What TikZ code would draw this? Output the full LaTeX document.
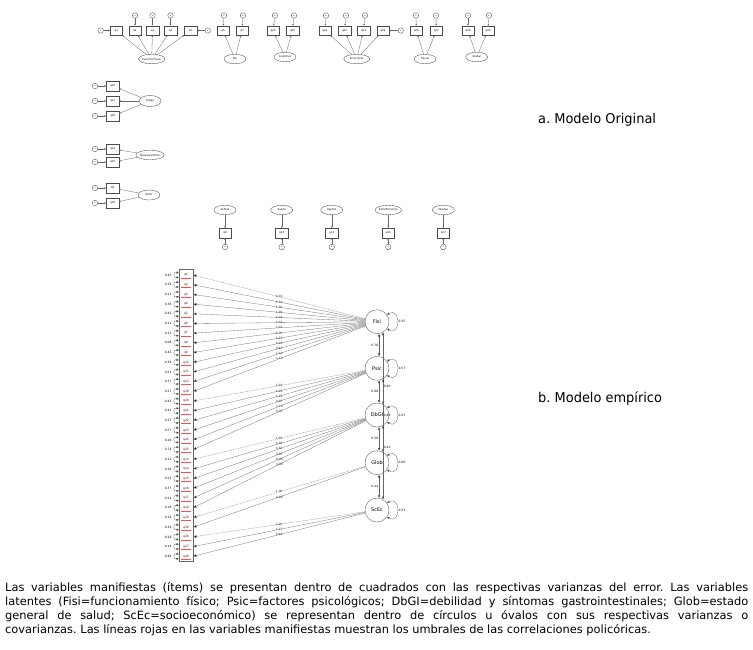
\documentclass[tikz,border=0pt]{standalone}
\usepackage{fontspec}
\setmainfont{DejaVu Sans}
\newfontfamily\capfont{DejaVu Sans}[FakeStretch=0.96]
\newfontfamily\bodyfont{DejaVu Sans}
\usetikzlibrary{shapes.geometric,arrows.meta}
\frenchspacing
\begin{document}
\begin{tikzpicture}[x=1pt,y=-1pt,
  tinyf/.style={font=\fontsize{2.6}{3}\selectfont},
  obs/.style={draw=black!70,line width=0.35pt,rectangle,minimum width=12.5pt,minimum height=9.5pt,inner sep=0pt,tinyf},
  lat/.style={draw=black!70,line width=0.35pt,ellipse,minimum width=22pt,minimum height=9.5pt,inner sep=0.3pt,tinyf},
  err/.style={draw=black!70,line width=0.35pt,circle,minimum size=5.5pt,inner sep=0pt,font=\fontsize{2}{2}\selectfont},
  arr/.style={draw=black!60,line width=0.3pt,-{Stealth[length=1.8pt,width=1.8pt]}},
  item/.style={rectangle,minimum width=14pt,minimum height=9.7pt,inner sep=0pt,text=red!45!black,font=\fontsize{3}{3}\selectfont},
  latc/.style={circle,draw=black!60,line width=0.4pt,minimum size=24pt,inner sep=0pt,font=\fontsize{5}{5}\selectfont},
  ls/.style={draw=black!55,line width=0.3pt,-{Latex[length=3.2pt,width=2.8pt,fill=black]}},
  ld/.style={ls,dashed,dash pattern=on 1pt off 0.8pt},
  lload/.style={font=\fontsize{3}{3}\selectfont,inner sep=0.3pt,text=black!80},
  vloop/.style={draw=black!60,line width=0.3pt,{Latex[length=2.4pt,width=2.4pt,fill=black]}-{Latex[length=2.4pt,width=2.4pt,fill=black]}},
  cov/.style={draw=black!60,line width=0.3pt,{Latex[length=2.8pt,width=2.4pt,fill=black]}-{Latex[length=2.8pt,width=2.4pt,fill=black]}},
  small/.style={font=\fontsize{3}{3}\selectfont,inner sep=0.3pt},
  capt/.style={font=\capfont\fontsize{13.5}{15}\selectfont,anchor=west,inner sep=0pt}
]
\useasboundingbox[fill=white] (0,0) rectangle (753,649);

% ---------------- a. Modelo original: top row ----------------
\foreach \n/\x in {1/116.3,2/135,3/152.5,4/170.5,5/190.5}
  \node[obs] (aq\n) at (\x,30.5) {q\n};
\node[lat,minimum width=26pt] (L1) at (151.7,59) {Función Física};
\foreach \n in {1,...,5} \draw[arr] (L1) -- (aq\n);
\node[err] (ae1) at (100.7,30.5) {e};
\draw[arr] (ae1) -- (aq1);
\node[err] (ae5) at (207.7,30.5) {e};
\draw[arr] (ae5) -- (aq5);
\foreach \n/\x in {2/135,3/152.5,4/170.5} {
  \node[err] (ae\n) at (\x,15.5) {e};
  \draw[arr] (ae\n) -- (aq\n);
}
\node[obs] (aq6) at (223,30.5) {q6};
\node[obs] (aq7) at (242,30.5) {q7};
\node[lat] (L2) at (235,59) {Rol};
\foreach \n/\x in {6/224,7/243} {
  \node[err] (ae\n) at (\x,15.5) {e};
  \draw[arr] (ae\n) -- (aq\n);
  \draw[arr] (L2) -- (aq\n);
}
\node[obs] (aq20) at (273,30.5) {q20};
\node[obs] (aq25) at (292.5,30.5) {q25};
\node[lat] (L3) at (285,57) {Cognitivo};
\foreach \n/\x in {20/275,25/294} {
  \node[err] (ae\n) at (\x,15.5) {e};
  \draw[arr] (ae\n) -- (aq\n);
  \draw[arr] (L3) -- (aq\n);
}
\foreach \n/\x in {21/325,22/344.5,23/363.5,24/383}
  \node[obs] (aq\n) at (\x,30.5) {q\n};
\node[lat,minimum width=26pt] (L4) at (356.7,59) {Emocional};
\foreach \n in {21,22,23,24} \draw[arr] (L4) -- (aq\n);
\foreach \n/\x in {21/326,22/346,23/365} {
  \node[err] (ae\n) at (\x,15.5) {e};
  \draw[arr] (ae\n) -- (aq\n);
}
\node[err] (ae24) at (400.7,30.5) {e};
\draw[arr] (ae24) -- (aq24);
\node[obs] (aq26) at (416.3,30.5) {q26};
\node[obs] (aq27) at (436.3,30.5) {q27};
\node[lat] (L5) at (425,59) {Social};
\foreach \n/\x in {26/416,27/436} {
  \node[err] (ae\n) at (\x,15.5) {e};
  \draw[arr] (ae\n) -- (aq\n);
  \draw[arr] (L5) -- (aq\n);
}
\node[obs] (aq29) at (468,30.5) {q29};
\node[obs] (aq30) at (488,30.5) {q30};
\node[lat] (L6) at (476.7,57) {Global};
\foreach \n/\x in {29/468,30/489} {
  \node[err] (ae\n) at (\x,15.5) {e};
  \draw[arr] (ae\n) -- (aq\n);
  \draw[arr] (L6) -- (aq\n);
}

% ---------------- left groups ----------------
\node[lat,minimum height=11pt] (fat) at (150,101) {Fatiga};
\foreach \k/\y/\q in {1/86/q10,2/101/q12,3/116/q18} {
  \node[obs] (fq\k) at (112.5,\y) {\q};
  \node[err] (fe\k) at (95,\y) {e};
  \draw[arr] (fat) -- (fq\k);
  \draw[arr] (fe\k) -- (fq\k);
}
\node[lat,minimum width=24pt] (nau) at (150,155) {Náusea-Vómito};
\foreach \k/\y/\q in {1/149/q14,2/162/q15} {
  \node[obs] (nq\k) at (112.5,\y) {\q};
  \node[err] (ne\k) at (95,\y) {e};
  \draw[arr] (nau) -- (nq\k);
  \draw[arr] (ne\k) -- (nq\k);
}
\node[lat,minimum height=10pt] (dol) at (149,195) {Dolor};
\foreach \k/\y/\q in {1/188/q9,2/203/q19} {
  \node[obs] (dq\k) at (112.5,\y) {\q};
  \node[err] (de\k) at (95,\y) {e};
  \draw[arr] (dol) -- (dq\k);
  \draw[arr] (de\k) -- (dq\k);
}

% ---------------- single-item row ----------------
\foreach \k/\x/\nm/\q in {1/225/Asfixia/q8,2/281.7/Sueño/q11,3/331.7/Apetito/q13,4/388.3/Estreñimiento/q16,5/443.3/Diarrea/q17} {
  \node[lat] (m\k) at (\x,210) {\nm};
  \node[obs] (mq\k) at (\x,233) {\q};
  \node[err] (me\k) at (\x,247) {e};
  \draw[arr] (m\k) -- (mq\k);
  \draw[arr] (me\k) -- (mq\k);
}

% ---------------- b. Modelo empirico ----------------
\draw[draw=black!60,line width=0.4pt] (179,269.5) rectangle (193,561);
\node[latc] (Fisi) at (377,321.7) {Fisi};
\node[latc] (Psic) at (377,368.3) {Psic};
\node[latc] (DbGI) at (377,415) {DbGI};
\node[latc] (Glob) at (377,462.7) {Glob};
\node[latc] (ScEc) at (377,510) {ScEc};

\foreach \i/\lab/\v/\f/\l/\st in {
  1/q1/0.45/Fisi/1.00/ld, 2/q2/0.34/Fisi/1.10/ls, 3/q3/0.21/Fisi/1.10/ls,
  4/q4/0.36/Fisi/1.09/ls, 5/q5/0.42/Fisi/1.04/ls, 6/q6/0.21/Fisi/1.02/ls,
  7/q7/0.22/Fisi/1.02/ls, 8/q8/0.08/Fisi/0.70/ls, 9/q9/0.42/Fisi/1.01/ls,
  10/q10/0.36/Fisi/1.08/ls, 11/q11/0.51/Fisi/0.85/ls, 12/q12/0.37/Fisi/1.14/ls,
  13/q18/0.27/Fisi/1.10/ls,
  14/q20/0.43/Psic/1.00/ld, 15/q21/0.42/Psic/1.00/ls, 16/q22/0.27/Psic/1.12/ls,
  17/q23/0.57/Psic/0.87/ls, 18/q24/0.26/Psic/1.10/ls, 19/q25/0.74/Psic/0.87/ls,
  20/q13/0.13/DbGI/1.00/ld, 21/q14/0.26/DbGI/0.91/ls, 22/q15/0.53/DbGI/0.81/ls,
  23/q16/0.37/DbGI/0.87/ls, 24/q17/0.54/DbGI/0.84/ls, 25/q19/0.18/DbGI/0.88/ls,
  26/q29/0.14/Glob/1.00/ld, 27/q30/0.19/Glob/0.86/ls,
  28/q26/0.28/ScEc/1.00/ld, 29/q27/0.18/ScEc/1.17/ls, 30/q28/0.46/ScEc/0.94/ls} {
  \pgfmathsetmacro\yy{275+9.7*(\i-1)}
  \node[item] (it\i) at (186,\yy) {\lab};
  \draw[red!70,line width=0.3pt] (181,\yy+2.9) -- (191,\yy+2.9);
  \draw[vloop] ([yshift=1.8pt]it\i.west) .. controls +(-6,-2.5) and +(-6,2.5) .. ([yshift=-1.8pt]it\i.west);
  \node[small,anchor=east] (vl\i) at (172,\yy) {\v};
  \draw[\st] (\f) -- (it\i.east) node[lload,pos=0.5] {\l};
}

\foreach \n/\v in {Fisi/0.55,Psic/0.57,DbGI/0.47,Glob/0.60,ScEc/0.53} {
  \draw[vloop] (\n.35) .. controls +(14,-8) and +(14,8) .. (\n.-35);
  \node[small,anchor=west] (lv\n) at ([xshift=21pt]\n.center) {\v};
}
\draw[cov] (Fisi.-80) -- (Psic.80) node[small,pos=0.5,left=0.5pt] {0.78};
\draw[cov] (Psic.-80) -- (DbGI.80) node[small,pos=0.5,left=0.5pt] {0.68};
\draw[cov] (DbGI.-80) -- (Glob.80) node[small,pos=0.5,left=0.5pt] {0.58};
\draw[cov] (Glob.-80) -- (ScEc.80) node[small,pos=0.5,left=0.5pt] {0.44};
\draw[cov] (Fisi.-60) -- (DbGI.60) node[small,pos=0.75,right=0.3pt] {0.40};
\draw[cov] (Psic.-60) -- (Glob.60) node[small,pos=0.5,right=0.3pt] {0.40};
\draw[cov] (DbGI.-60) -- (ScEc.60) node[small,pos=0.3,right=0.3pt] {0.42};

% ---------------- texts ----------------
\node[capt] (ta) at (538,120) {a. Modelo Original};
\node[capt] (tb) at (538,398) {b. Modelo empírico};
\node[anchor=north west,text width=743pt,align=justify,inner sep=0pt,
      font=\bodyfont\fontsize{11.4}{14}\selectfont] (cap) at (5,582)
 {Las variables manifiestas (ítems) se presentan dentro de cuadrados con las respectivas varianzas del error. Las variables\linebreak
  latentes (Fisi=funcionamiento físico; Psic=factores psicológicos; DbGI=debilidad y síntomas gastrointestinales; Glob=estado\linebreak
  general de salud; ScEc=socioeconómico) se representan dentro de círculos u óvalos con sus respectivas varianzas o\linebreak
  covarianzas. Las líneas rojas en las variables manifiestas muestran los umbrales de las correlaciones policóricas.};
\end{tikzpicture}
\end{document}
